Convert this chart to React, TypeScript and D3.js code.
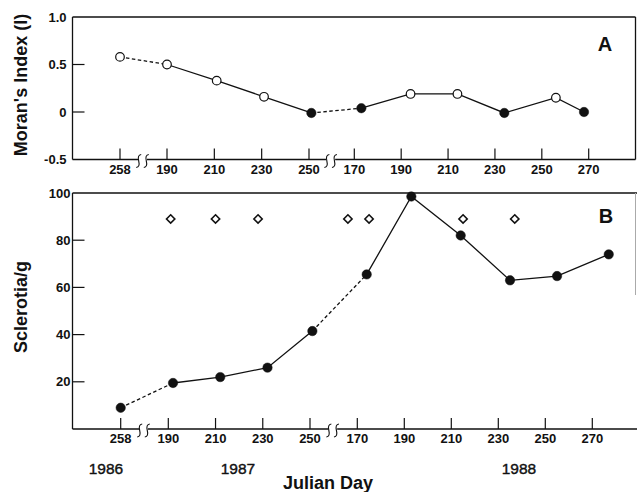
import React from 'react';
import * as d3 from 'd3';

const FONT = "'Liberation Sans', Arial, Helvetica, sans-serif";

// ---- Data ----
const yearList = [1986, 1987, 1988];
const yearTicks: Record<number, number[]> = {
  1986: [258],
  1987: [190, 210, 230, 250],
  1988: [170, 190, 210, 230, 250, 270],
};

const moranYears = [1986, 1987, 1987, 1987, 1987, 1988, 1988, 1988, 1988, 1988, 1988];
const moranDays = [258, 190, 211, 231, 251, 173, 194, 214, 234, 256, 268];
const moranValues = [0.58, 0.5, 0.33, 0.16, -0.01, 0.04, 0.19, 0.19, -0.01, 0.15, 0.0];
const moranOpen = [true, true, true, true, false, false, true, true, false, true, false];

const scleroYears = [1986, 1987, 1987, 1987, 1987, 1988, 1988, 1988, 1988, 1988, 1988];
const scleroDays = [258, 192, 212, 232, 251, 174, 193, 214, 235, 255, 277];
const scleroValues = [9, 19.5, 22, 26, 41.5, 65.5, 98.5, 82, 63, 64.8, 74];

const diamondYears = [1987, 1987, 1987, 1988, 1988, 1988, 1988];
const diamondDays = [191, 210, 228, 166, 175, 215, 237];
const diamondValues = [89, 89, 89, 89, 89, 89, 89];

const moranTicks = [1.0, 0.5, 0, -0.5];
const moranTickLabels = ['1.0', '0.5', '0', '-0.5'];
const scleroTicks = [100, 80, 60, 40, 20];
const scleroTickLabels = ['100', '80', '60', '40', '20'];

type Seg = { domain: [number, number]; range: [number, number] };

function makeX(segs: Record<number, Seg>) {
  const scales: Record<number, d3.ScaleLinear<number, number>> = {};
  yearList.forEach((y) => {
    scales[y] = d3.scaleLinear().domain(segs[y].domain).range(segs[y].range);
  });
  return (year: number, day: number) => scales[year](day);
}

function squiggle(cx: number, cy: number) {
  return `M${cx + 2.5},${cy - 6.5} Q${cx - 1.5},${cy - 6} ${cx},${cy} Q${cx + 1.5},${cy + 6} ${cx - 2.5},${cy + 6.5}`;
}

type PanelProps = {
  xs: (year: number, day: number) => number;
  y: d3.ScaleLinear<number, number>;
  left: number;
  right: number;
  top: number;
  bottom: number;
  yTicks: number[];
  yTickLabels: string[];
  yLabelEnd: number;
  xLabelBaseline: number;
  years: number[];
  days: number[];
  values: number[];
  open: boolean[];
  rightBorder: React.ReactNode;
};

function Panel(p: PanelProps) {
  const { xs, y, left, right, top, bottom } = p;
  const breaks: number[] = [];
  for (let i = 0; i < yearList.length - 1; i++) {
    const a = yearList[i];
    const b = yearList[i + 1];
    const ta = yearTicks[a];
    const tb = yearTicks[b];
    breaks.push((xs(a, ta[ta.length - 1]) + xs(b, tb[0])) / 2 - 1);
  }
  const gap = 4.5;
  let axisPath = `M${left},${bottom}`;
  breaks.forEach((bx) => {
    axisPath += ` H${bx - gap} M${bx + gap},${bottom}`;
  });
  axisPath += ` H${right}`;

  const pts = p.days.map((d, i) => ({
    x: xs(p.years[i], d),
    y: y(p.values[i]),
    year: p.years[i],
    open: p.open[i],
  }));
  const line = d3.line<{ x: number; y: number }>().x((d) => d.x).y((d) => d.y);
  const solid: string[] = [];
  yearList.forEach((yr) => {
    const g = pts.filter((d) => d.year === yr);
    if (g.length > 1) solid.push(line(g) as string);
  });
  const dashed: string[] = [];
  for (let i = 0; i < pts.length - 1; i++) {
    if (pts[i].year !== pts[i + 1].year) dashed.push(line([pts[i], pts[i + 1]]) as string);
  }

  return (
    <g>
      <line x1={left} x2={right} y1={top} y2={top} stroke="#111" strokeWidth={1.3} />
      <line x1={left} x2={left} y1={top} y2={bottom} stroke="#111" strokeWidth={1.3} />
      {p.rightBorder}
      <path d={axisPath} fill="none" stroke="#111" strokeWidth={1.3} />
      {breaks.map((bx, i) => (
        <g key={i}>
          <path d={squiggle(bx - 3.8, bottom + 1.5)} fill="none" stroke="#111" strokeWidth={1.1} />
          <path d={squiggle(bx + 3.8, bottom + 1.5)} fill="none" stroke="#111" strokeWidth={1.1} />
        </g>
      ))}
      {p.yTicks.map((t, i) => (
        <g key={i}>
          {y(t) > top + 1 && y(t) < bottom - 1 && (
            <line x1={left} x2={left + 12} y1={y(t)} y2={y(t)} stroke="#111" strokeWidth={1.2} />
          )}
          <text
            x={p.yLabelEnd}
            y={y(t) + 4.6}
            textAnchor="end"
            fontFamily={FONT}
            fontWeight="bold"
            fontSize={13}
            fill="#111"
          >
            {p.yTickLabels[i]}
          </text>
        </g>
      ))}
      {yearList.map((yr) =>
        yearTicks[yr].map((d) => (
          <g key={`${yr}-${d}`}>
            <line x1={xs(yr, d)} x2={xs(yr, d)} y1={bottom} y2={bottom - 11} stroke="#111" strokeWidth={1.2} />
            <text
              x={xs(yr, d)}
              y={p.xLabelBaseline}
              textAnchor="middle"
              fontFamily={FONT}
              fontWeight="bold"
              fontSize={13}
              fill="#111"
            >
              {d}
            </text>
          </g>
        ))
      )}
      {solid.map((d, i) => (
        <path key={`s${i}`} d={d} fill="none" stroke="#111" strokeWidth={1.3} />
      ))}
      {dashed.map((d, i) => (
        <path key={`d${i}`} d={d} fill="none" stroke="#111" strokeWidth={1.3} strokeDasharray="3.5,2.5" />
      ))}
      {pts.map((d, i) => (
        <circle
          key={i}
          cx={d.x}
          cy={d.y}
          r={d.open ? 4.3 : 4.7}
          fill={d.open ? '#fff' : '#111'}
          stroke="#111"
          strokeWidth={d.open ? 1.2 : 0.5}
        />
      ))}
    </g>
  );
}

export default function App() {
  const xTop = makeX({
    1986: { domain: [238, 258], range: [72.8, 120] },
    1987: { domain: [190, 250], range: [167, 309] },
    1988: { domain: [170, 270], range: [354.3, 588.7] },
  });
  const xBot = makeX({
    1986: { domain: [238, 258], range: [73.5, 120.7] },
    1987: { domain: [190, 250], range: [168.3, 310] },
    1988: { domain: [170, 270], range: [357.3, 592.3] },
  });
  const yTop = d3.scaleLinear().domain([-0.5, 1.0]).range([159.5, 17]);
  const yBot = d3.scaleLinear().domain([0, 100]).range([429, 193]);

  const diamonds = diamondDays.map((d, i) => ({
    x: xBot(diamondYears[i], d),
    y: yBot(diamondValues[i]),
  }));
  const diamondSym = d3.symbol().type(d3.symbolDiamond2).size(44)();

  return (
    <svg
      width={637}
      height={492}
      style={{ position: 'absolute', left: 0, top: 0, background: '#fff' }}
    >
      <rect x={0} y={0} width={637} height={492} fill="#fff" />
      <Panel
        xs={xTop}
        y={yTop}
        left={72.5}
        right={635.5}
        top={17}
        bottom={159.5}
        yTicks={moranTicks}
        yTickLabels={moranTickLabels}
        yLabelEnd={66.5}
        xLabelBaseline={173.5}
        years={moranYears}
        days={moranDays}
        values={moranValues}
        open={moranOpen}
        rightBorder={<line x1={635.5} x2={635.5} y1={17} y2={159.5} stroke="#111" strokeWidth={1.3} />}
      />
      <Panel
        xs={xBot}
        y={yBot}
        left={72.5}
        right={637}
        top={193}
        bottom={429}
        yTicks={scleroTicks}
        yTickLabels={scleroTickLabels}
        yLabelEnd={70.5}
        xLabelBaseline={443}
        years={scleroYears}
        days={scleroDays}
        values={scleroValues}
        open={scleroYears.map(() => false)}
        rightBorder={<line x1={635.5} x2={635.5} y1={193} y2={295} stroke="#aaa" strokeWidth={1} />}
      />
      {diamonds.map((d, i) => (
        <path
          key={i}
          d={diamondSym as string}
          transform={`translate(${d.x},${d.y})`}
          fill="#fff"
          stroke="#111"
          strokeWidth={1.6}
        />
      ))}
      <text x={605} y={50.7} textAnchor="middle" fontFamily={FONT} fontWeight="bold" fontSize={20} fill="#111">
        A
      </text>
      <text x={606} y={222.7} textAnchor="middle" fontFamily={FONT} fontWeight="bold" fontSize={20} fill="#111">
        B
      </text>
      <text
        transform="translate(27,85) rotate(-90)"
        textAnchor="middle"
        fontFamily={FONT}
        fontWeight="bold"
        fontSize={18}
        fill="#111"
      >
        Moran's Index (I)
      </text>
      <text
        transform="translate(27,307) rotate(-90)"
        textAnchor="middle"
        fontFamily={FONT}
        fontWeight="bold"
        fontSize={18}
        fill="#111"
      >
        Sclerotia/g
      </text>
      <text x={106} y={474} textAnchor="middle" fontFamily={FONT} fontSize={15.5} fill="#111" stroke="#111" strokeWidth={0.4}>
        1986
      </text>
      <text x={238} y={474} textAnchor="middle" fontFamily={FONT} fontSize={15.5} fill="#111" stroke="#111" strokeWidth={0.4}>
        1987
      </text>
      <text x={519} y={474} textAnchor="middle" fontFamily={FONT} fontSize={15.5} fill="#111" stroke="#111" strokeWidth={0.4}>
        1988
      </text>
      <text x={328} y={489} textAnchor="middle" fontFamily={FONT} fontWeight="bold" fontSize={18} fill="#111">
        Julian Day
      </text>
    </svg>
  );
}
